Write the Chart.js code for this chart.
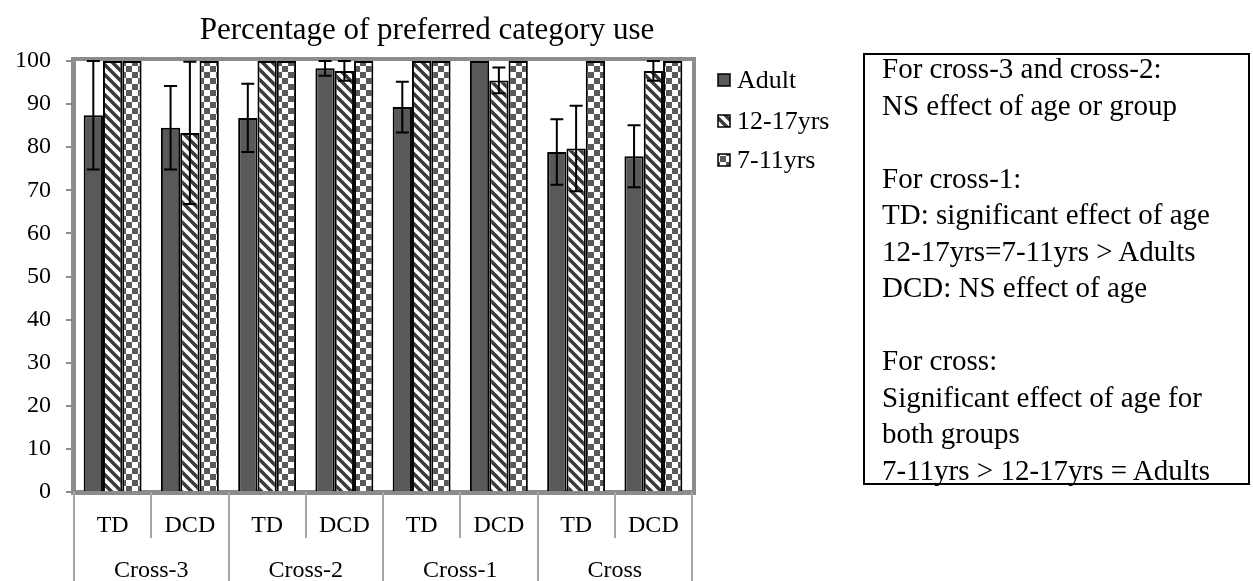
<!DOCTYPE html>
<html lang="en">
  <head>
    <meta charset="UTF-8" />
    <title>Percentage of preferred category use</title>
    <style>
      body { margin: 0; background: #fff; }
      #wrap { position: relative; width: 1253px; height: 581px; overflow: hidden; }
      #chart { position: absolute; left: 0; top: 0; }
      #note {
        position: absolute;
        left: 863px;
        top: 53px;
        width: 366px;
        height: 428px;
        padding: 0 0 0 17px;
        border: 2px solid #000;
        font-family: "Liberation Serif", "Times New Roman", serif;
        font-size: 29px;
        line-height: 36.5px;
        color: #000;
      }
      #note div { position: relative; top: -5px; white-space: pre; }
    </style>
  </head>
  <body>
    <div id="wrap">
      <canvas id="chart" width="1253" height="581"></canvas>
      <div id="note"><div>For cross-3 and cross-2:
NS effect of age or group

For cross-1:
TD: significant effect of age
12-17yrs=7-11yrs &gt; Adults
DCD: NS effect of age

For cross:
Significant effect of age for
both groups
7-11yrs &gt; 12-17yrs = Adults</div></div>
    </div>
    <script src="https://cdn.jsdelivr.net/npm/chart.js"></script>
    <script>
      const groups = ["Cross-3", "Cross-2", "Cross-1", "Cross"];
      const subgroups = ["TD", "DCD", "TD", "DCD", "TD", "DCD", "TD", "DCD"];
      const seriesNames = ["Adult", "12-17yrs", "7-11yrs"];

      const adult = [87.4, 84.5, 86.8, 98.3, 89.3, 100, 78.9, 77.9];
      const adultErr = [12.6, 9.7, 7.9, 1.7, 5.9, 0, 7.6, 7.2];
      const teen = [100, 83.3, 100, 97.7, 100, 95.5, 79.7, 97.7];
      const teenErr = [0, 16.5, 0, 2.3, 0, 3.0, 9.9, 2.3];
      const child = [100, 100, 100, 100, 100, 100, 100, 100];
      const childErr = [0, 0, 0, 0, 0, 0, 0, 0];

      const yTicks = [0, 10, 20, 30, 40, 50, 60, 70, 80, 90, 100];

      const FONT = "'Liberation Serif', 'Times New Roman', serif";
      const DARK = "#595959";
      const FRAME = "#8c8c8c";

      function stripePattern() {
        const n = 10;
        const c = document.createElement("canvas");
        c.width = n;
        c.height = n;
        const g = c.getContext("2d");
        g.fillStyle = "#fff";
        g.fillRect(0, 0, n, n);
        g.strokeStyle = "#3a3a3a";
        g.lineWidth = 3.5;
        g.beginPath();
        g.moveTo(-3, -3); g.lineTo(n + 3, n + 3);
        g.moveTo(-n - 3, -3); g.lineTo(3, n + 3);
        g.moveTo(n - 3, -3); g.lineTo(2 * n + 3, n + 3);
        g.stroke();
        return g.createPattern(c, "repeat");
      }

      function checkPattern() {
        const c = document.createElement("canvas");
        c.width = 12;
        c.height = 12;
        const g = c.getContext("2d");
        g.fillStyle = "#fff";
        g.fillRect(0, 0, 12, 12);
        g.fillStyle = DARK;
        g.fillRect(0, 0, 6, 6);
        g.fillRect(6, 6, 6, 6);
        return g.createPattern(c, "repeat");
      }

      const fills = [DARK, stripePattern(), checkPattern()];
      const errors = [adultErr, teenErr, childErr];

      // frame round the plot area, grey like the axes
      const framePlugin = {
        id: "frame",
        afterDatasetsDraw(chart) {
          const a = chart.chartArea;
          const ctx = chart.ctx;
          ctx.save();
          ctx.strokeStyle = FRAME;
          ctx.lineWidth = 4;
          ctx.strokeRect(a.left - 1, a.top - 2, a.right - a.left + 3, a.bottom - a.top + 3);
          ctx.restore();
        },
      };

      // error bars on top of each bar
      const errorBarPlugin = {
        id: "errorBars",
        afterDatasetsDraw(chart) {
          const ctx = chart.ctx;
          const y = chart.scales.y;
          ctx.save();
          ctx.strokeStyle = "#000";
          ctx.lineWidth = 2;
          chart.data.datasets.forEach((ds, di) => {
            const meta = chart.getDatasetMeta(di);
            meta.data.forEach((bar, i) => {
              const e = errors[di][i];
              if (!e) return;
              const v = ds.data[i];
              const top = y.getPixelForValue(Math.min(v + e, 100));
              const bot = y.getPixelForValue(v - e);
              const half = 6.5;
              ctx.beginPath();
              ctx.moveTo(bar.x, top);
              ctx.lineTo(bar.x, bot);
              ctx.moveTo(bar.x - half, top);
              ctx.lineTo(bar.x + half, top);
              ctx.moveTo(bar.x - half, bot);
              ctx.lineTo(bar.x + half, bot);
              ctx.stroke();
            });
          });
          ctx.restore();
        },
      };

      // separators of the two label rows under the axis
      const separatorPlugin = {
        id: "separators",
        afterDraw(chart) {
          const x = chart.scales.x;
          const ctx = chart.ctx;
          const step = (x.right - x.left) / subgroups.length;
          ctx.save();
          ctx.strokeStyle = "#a6a6a6";
          ctx.lineWidth = 2;
          for (let i = 0; i <= subgroups.length; i++) {
            const px = Math.round(x.getPixelForValue(0) - step / 2 + i * step);
            const end = i % 2 === 0 ? chart.height : x.bottom - 2;
            ctx.beginPath();
            ctx.moveTo(px, x.top);
            ctx.lineTo(px, end);
            ctx.stroke();
          }
          ctx.restore();
        },
      };

      // title and legend beside the plot
      const textPlugin = {
        id: "texts",
        afterDraw(chart) {
          const ctx = chart.ctx;
          ctx.save();
          ctx.fillStyle = "#000";
          ctx.font = "31px " + FONT;
          ctx.textAlign = "center";
          ctx.textBaseline = "alphabetic";
          ctx.fillText("Percentage of preferred category use", 427, 39);

          ctx.font = "26px " + FONT;
          ctx.textAlign = "left";
          ctx.textBaseline = "middle";
          const rows = [80, 121, 160];
          chart.data.datasets.forEach((ds, i) => {
            const yy = rows[i];
            ctx.fillStyle = ds.backgroundColor;
            ctx.fillRect(718, yy - 6, 12, 12);
            ctx.strokeStyle = "#000";
            ctx.lineWidth = 1.5;
            ctx.strokeRect(718, yy - 6, 12, 12);
            ctx.fillStyle = "#000";
            ctx.fillText(ds.label, 737, yy + 1);
          });
          ctx.restore();
        },
      };

      const ctx = document.getElementById("chart").getContext("2d");
      new Chart(ctx, {
        type: "bar",
        data: {
          labels: subgroups,
          datasets: seriesNames.map((name, i) => ({
            label: name,
            data: [adult, teen, child][i],
            backgroundColor: fills[i],
            borderColor: "#000",
            borderWidth: 2,
            categoryPercentage: 0.75,
            barPercentage: 1.0,
          })),
        },
        options: {
          responsive: false,
          animation: false,
          layout: { padding: { left: 0, top: 61, right: 561, bottom: 0 } },
          plugins: {
            legend: { display: false },
            title: { display: false },
            tooltip: { enabled: false },
          },
          scales: {
            y: {
              min: 0,
              max: 100,
              afterFit: (s) => { s.width = 74; },
              afterBuildTicks: (s) => { s.ticks = yTicks.map((v) => ({ value: v })); },
              border: { color: FRAME, width: 4 },
              grid: { drawOnChartArea: false, color: FRAME, lineWidth: 2, tickLength: 8 },
              ticks: { color: "#000", font: { family: FONT, size: 24 }, padding: 15 },
            },
            x: {
              afterFit: (s) => { s.height = 48; },
              border: { color: FRAME, width: 4 },
              grid: { display: false },
              ticks: { color: "#000", font: { family: FONT, size: 24 }, padding: 11, maxRotation: 0 },
            },
            x2: {
              type: "category",
              position: "bottom",
              labels: groups,
              offset: true,
              afterFit: (s) => { s.height = 41; },
              border: { display: false },
              grid: { display: false },
              ticks: { color: "#000", font: { family: FONT, size: 24 }, padding: 8, maxRotation: 0 },
            },
          },
        },
        plugins: [framePlugin, errorBarPlugin, separatorPlugin, textPlugin],
      });
    </script>
  </body>
</html>
